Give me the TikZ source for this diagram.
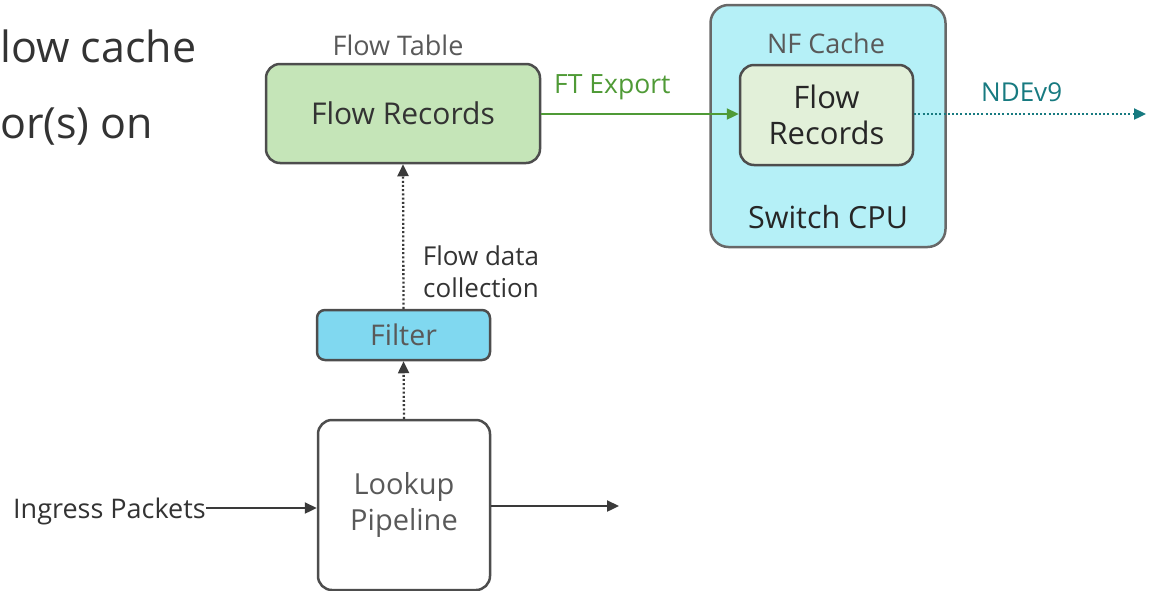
\documentclass[tikz,border=0pt]{standalone}
\usepackage{fontspec}
\setmainfont{Open Sans}
\usetikzlibrary{arrows.meta}
\definecolor{txtgray}{HTML}{595959}
\definecolor{txtdark}{HTML}{333333}
\definecolor{linedark}{HTML}{3A3A3A}
\definecolor{bordergray}{HTML}{4D4D4D}
\definecolor{greenfill}{HTML}{C5E5B8}
\definecolor{paleGreen}{HTML}{E2F0D9}
\definecolor{cyanfill}{HTML}{B5F0F7}
\definecolor{filterfill}{HTML}{80D8F0}
\definecolor{exportgreen}{HTML}{4F9A36}
\definecolor{teal}{HTML}{177A80}
\newcommand{\fs}[2]{\fontsize{#1}{#2}\selectfont}
\begin{document}
\begin{tikzpicture}[x=1pt,y=-1pt,
  box/.style={draw=bordergray, line width=2.5pt, rounded corners=14pt, inner sep=0pt, align=center},
  conn/.style={draw=linedark, line width=2.3pt, -{Triangle[length=12pt,width=11pt]}},
  dotconn/.style={draw=linedark, line width=2.3pt, dash pattern=on 2pt off 2.2pt, -{Triangle[length=12pt,width=11pt]}},
  lbl/.style={inner sep=0pt, align=center}]
\useasboundingbox (0,0) rectangle (1153,590);

% cut-off heading text
\node[lbl, anchor=base west, text=txtdark, font=\fs{43}{50}] (h1) at (0,62) {low cache};
\node[lbl, anchor=base west, text=txtdark, font=\fs{43}{50}] (h2) at (0,138) {or(s) on};

% Flow table
\node[box, fill=greenfill, minimum width=274pt, minimum height=99pt, text=txtdark, font=\fs{30}{36}] (fr) at (403,113.5) {Flow Records};
\node[lbl, text=txtgray, font=\fs{27}{32}] (ft) at (398,45) {Flow Table};

% Switch CPU
\node[box, draw=bordergray!85, fill=cyanfill, minimum width=235pt, minimum height=242pt, rounded corners=18pt] (cpu) at (828,126) {};
\node[lbl, text=txtgray, font=\fs{27}{32}] (nfc) at (826,43) {NF Cache};
\node[box, fill=paleGreen, minimum width=173pt, minimum height=100pt, text=black!85, font=\fs{31}{36}] (nfr) at (826.5,115) {Flow\\Records};
\node[lbl, text=black!85, font=\fs{30.5}{36}] (sw) at (828,217) {Switch CPU};

% Filter and lookup
\node[box, fill=filterfill, minimum width=173pt, minimum height=50pt, rounded corners=8pt, text=txtgray, font=\fs{28.5}{34}] (flt) at (403.5,335) {Filter};
\node[box, fill=white, minimum width=172pt, minimum height=170pt, text=txtgray, font=\fs{29}{36}] (lk) at (404,505) {Lookup\\Pipeline};

\node[lbl, text=txtdark, font=\fs{26}{32}] (fdc) at (481,272) {Flow data\\collection};
\node[lbl, anchor=east, text=txtdark, font=\fs{27}{32}] (ing) at (206,511) {Ingress Packets};

% export labels
\node[lbl, anchor=base west, text=exportgreen, font=\fs{26.5}{32}] (fte) at (554,93) {FT Export};
\node[lbl, anchor=base west, text=teal, font=\fs{26}{30}] (nde) at (981,101) {NDEv9};

\coordinate (ndeend) at (1146,114);
\coordinate (out) at (619,506);

% connectors
\draw[conn, draw=exportgreen, color=exportgreen] (fr.east |- 0,114) -- (nfr.west |- 0,114);
\draw[dotconn, draw=teal, color=teal] (nfr.east |- ndeend) -- (ndeend);
\draw[dotconn, color=linedark] (flt.north) -- (fr.south);
\draw[dotconn, color=linedark] (lk.north) -- (flt.south);
\draw[conn, color=linedark] (ing.east |- 0,508) -- (lk.west |- 0,508);
\draw[conn, color=linedark] (lk.east |- out) -- (out);
\end{tikzpicture}
\end{document}
